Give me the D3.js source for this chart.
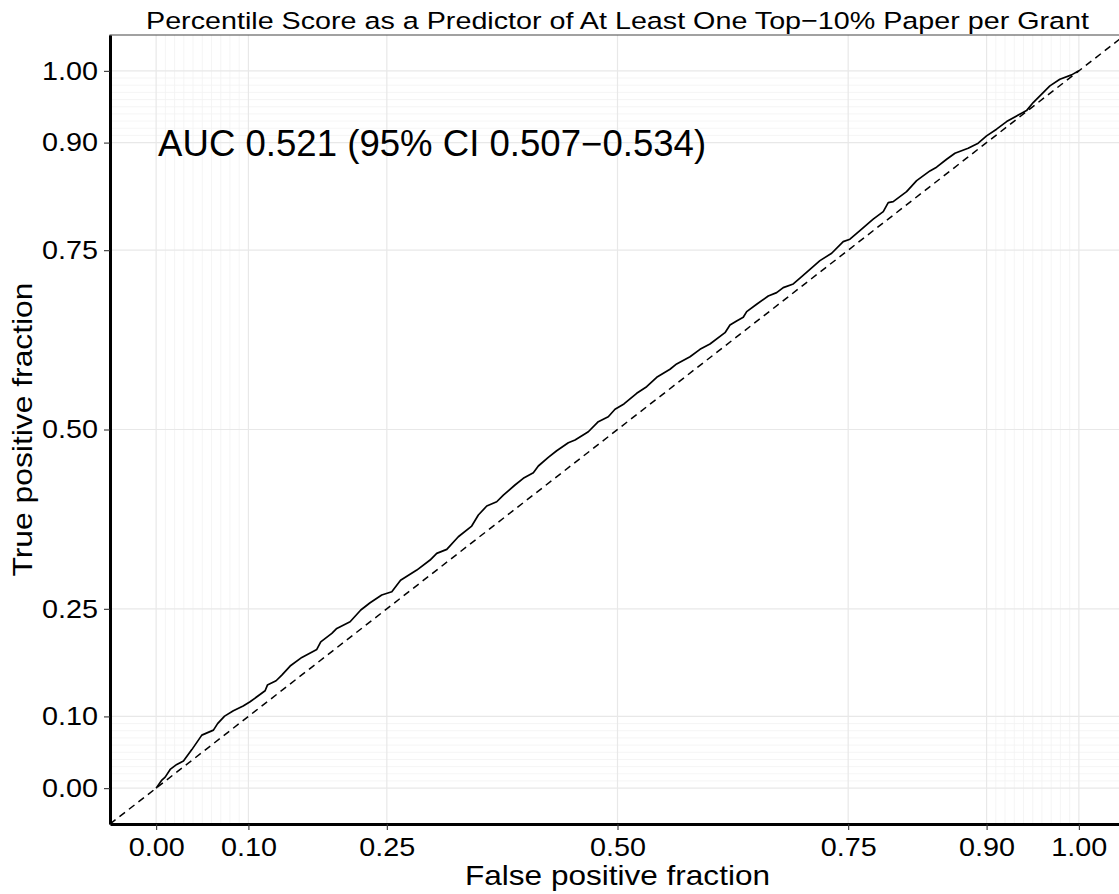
<!DOCTYPE html>
<html>
<head>
<meta charset="utf-8">
<script src="https://cdn.jsdelivr.net/npm/d3@7"></script>
<style>
  body { margin: 0; background: #fff; }
  svg { display: block; font-family: "Liberation Sans", Arial, Helvetica, sans-serif; }
</style>
</head>
<body>
<figure style="margin:0"></figure>
<script>
// ROC curve
const fpr = [0, 0.0062, 0.0098, 0.0152, 0.0224, 0.0296, 0.0387, 0.0495, 0.0621, 0.0666,
  0.0742, 0.0837, 0.0943, 0.1018, 0.1181, 0.1206, 0.13, 0.1362, 0.1452, 0.1579,
  0.1741, 0.1784, 0.1904, 0.1958, 0.2102, 0.2218, 0.2319, 0.2445, 0.2554, 0.2649,
  0.2825, 0.2969, 0.3041, 0.315, 0.3275, 0.342, 0.3492, 0.3583, 0.3691, 0.3763,
  0.3889, 0.3979, 0.4088, 0.4142, 0.425, 0.4341, 0.4467, 0.454, 0.4684, 0.4792,
  0.49, 0.4973, 0.507, 0.5208, 0.5316, 0.5425, 0.5569, 0.5641, 0.5786, 0.5894,
  0.6002, 0.6165, 0.6219, 0.6291, 0.6363, 0.64, 0.6508, 0.6634, 0.6725, 0.6796,
  0.6905, 0.6996, 0.7086, 0.7194, 0.7321, 0.7446, 0.7519, 0.7627, 0.7771, 0.788,
  0.7934, 0.7988, 0.8133, 0.8242, 0.8386, 0.8458, 0.8567, 0.8657, 0.88, 0.8909,
  0.9, 0.9108, 0.9217, 0.9379, 0.9433, 0.9505, 0.9578, 0.9686, 0.9794, 0.9921, 1];
const tpr = [0, 0.0112, 0.0153, 0.0261, 0.0331, 0.0377, 0.0537, 0.0739, 0.0809, 0.09,
  0.1004, 0.1078, 0.1144, 0.1204, 0.1357, 0.1437, 0.1497, 0.1576, 0.1702, 0.1823,
  0.1934, 0.204, 0.2158, 0.2227, 0.2319, 0.2483, 0.2584, 0.2692, 0.2738, 0.2897,
  0.304, 0.318, 0.3273, 0.3329, 0.3505, 0.3654, 0.3808, 0.3933, 0.3993, 0.4086,
  0.4226, 0.4319, 0.4397, 0.4491, 0.4612, 0.4704, 0.4816, 0.4854, 0.4969, 0.5109,
  0.5178, 0.5282, 0.5356, 0.5505, 0.5597, 0.5728, 0.584, 0.5914, 0.6015, 0.6118,
  0.6192, 0.635, 0.6457, 0.6513, 0.6565, 0.6643, 0.6746, 0.6862, 0.6908, 0.6978,
  0.7029, 0.7131, 0.7234, 0.7354, 0.7457, 0.7619, 0.7653, 0.7773, 0.7932, 0.8038,
  0.8163, 0.8177, 0.8317, 0.847, 0.8605, 0.8657, 0.8768, 0.8852, 0.8922, 0.8992,
  0.9093, 0.9187, 0.9293, 0.941, 0.9446, 0.9558, 0.9651, 0.9791, 0.9884, 0.9944, 1];

const majorBreaks = [0, 0.1, 0.25, 0.5, 0.75, 0.9, 1];
const minorBreaks = [0.01, 0.02, 0.03, 0.04, 0.05, 0.06, 0.07, 0.08, 0.09,
  0.91, 0.92, 0.93, 0.94, 0.95, 0.96, 0.97, 0.98, 0.99];

const titleText = "Percentile Score as a Predictor of At Least One Top\u221210% Paper per Grant";
const aucText = "AUC 0.521 (95% CI 0.507\u22120.534)";
const xTitle = "False positive fraction";
const yTitle = "True positive fraction";

const width = 1119;
const height = 894;
const margin = { top: 35, right: -6, bottom: 70, left: 110 };

const svg = d3.select("figure").append("svg")
  .attr("width", width)
  .attr("height", height);

const x = d3.scaleLinear()
  .domain([-0.05, 1.05])
  .range([margin.left, width - margin.right]);

const y = d3.scaleLinear()
  .domain([-0.05, 1.05])
  .range([height - margin.bottom, margin.top]);

const x0 = margin.left, x1 = width - margin.right;
const y0 = height - margin.bottom, y1 = margin.top;

svg.append("defs").append("clipPath").attr("id", "panel")
  .append("rect")
  .attr("x", x0).attr("y", y1)
  .attr("width", x1 - x0).attr("height", y0 - y1);

// grid
const grid = svg.append("g");
grid.selectAll("line.minorV").data(minorBreaks).enter().append("line")
  .attr("x1", d => x(d)).attr("x2", d => x(d))
  .attr("y1", y1).attr("y2", y0)
  .attr("stroke", "#f3f3f3").attr("stroke-width", 0.8);
grid.selectAll("line.minorH").data(minorBreaks).enter().append("line")
  .attr("y1", d => y(d)).attr("y2", d => y(d))
  .attr("x1", x0).attr("x2", x1)
  .attr("stroke", "#f3f3f3").attr("stroke-width", 0.8);
grid.selectAll("line.majorV").data(majorBreaks).enter().append("line")
  .attr("x1", d => x(d)).attr("x2", d => x(d))
  .attr("y1", y1).attr("y2", y0)
  .attr("stroke", "#e8e8e8").attr("stroke-width", 1.2);
grid.selectAll("line.majorH").data(majorBreaks).enter().append("line")
  .attr("y1", d => y(d)).attr("y2", d => y(d))
  .attr("x1", x0).attr("x2", x1)
  .attr("stroke", "#e8e8e8").attr("stroke-width", 1.2);

// panel border (only the top shows)
svg.append("rect")
  .attr("x", x0).attr("y", y1)
  .attr("width", x1 - x0).attr("height", y0 - y1)
  .attr("fill", "none").attr("stroke", "#444").attr("stroke-width", 1);

// diagonal reference
svg.append("line")
  .attr("clip-path", "url(#panel)")
  .attr("x1", x(-0.05)).attr("y1", y(-0.05))
  .attr("x2", x(1.05)).attr("y2", y(1.05))
  .attr("stroke", "#000").attr("stroke-width", 1.5)
  .attr("stroke-dasharray", "7,5");

// ROC curve
const pts = fpr.map((d, i) => [d, tpr[i]]);
svg.append("path")
  .datum(pts)
  .attr("fill", "none")
  .attr("stroke", "#000")
  .attr("stroke-width", 1.7)
  .attr("stroke-linejoin", "round")
  .attr("d", d3.line().x(d => x(d[0])).y(d => y(d[1])));

// axes
const fmt = d3.format(".2f");
const xAxis = d3.axisBottom(x).tickValues(majorBreaks).tickFormat(fmt)
  .tickSize(6).tickSizeOuter(0).tickPadding(8);
const yAxis = d3.axisLeft(y).tickValues(majorBreaks).tickFormat(fmt)
  .tickSize(6).tickSizeOuter(0).tickPadding(6);

const gx = svg.append("g")
  .attr("transform", `translate(0, ${y0})`)
  .call(xAxis);
const gy = svg.append("g")
  .attr("transform", `translate(${x0}, 0)`)
  .call(yAxis);

[gx, gy].forEach(g => {
  g.select(".domain").attr("stroke", "#000").attr("stroke-width", 3);
  g.selectAll(".tick line").attr("stroke", "#333").attr("stroke-width", 1.1);
  g.selectAll(".tick text")
    .attr("fill", "#000")
    .style("font-size", "26px")
    .style("font-family", "'Liberation Sans', Arial, sans-serif")
    .attr("textLength", 56)
    .attr("lengthAdjust", "spacingAndGlyphs");
});

// title
svg.append("text")
  .attr("x", (x0 + x1) / 2).attr("y", 29)
  .attr("text-anchor", "middle")
  .style("font-size", "24.5px")
  .attr("textLength", 943)
  .attr("lengthAdjust", "spacingAndGlyphs")
  .text(titleText);

// AUC label
svg.append("text")
  .attr("x", x(0) + 2).attr("y", y(0.9) + 13)
  .style("font-size", "36px")
  .attr("textLength", 548)
  .attr("lengthAdjust", "spacingAndGlyphs")
  .text(aucText);

// axis titles
svg.append("text")
  .attr("x", (x0 + x1) / 2).attr("y", 885)
  .attr("text-anchor", "middle")
  .style("font-size", "28px")
  .attr("textLength", 305)
  .attr("lengthAdjust", "spacingAndGlyphs")
  .text(xTitle);

svg.append("text")
  .attr("transform", `translate(32, ${(y0 + y1) / 2}) rotate(-90)`)
  .attr("text-anchor", "middle")
  .style("font-size", "28px")
  .attr("textLength", 294)
  .attr("lengthAdjust", "spacingAndGlyphs")
  .text(yTitle);
</script>
</body>
</html>
